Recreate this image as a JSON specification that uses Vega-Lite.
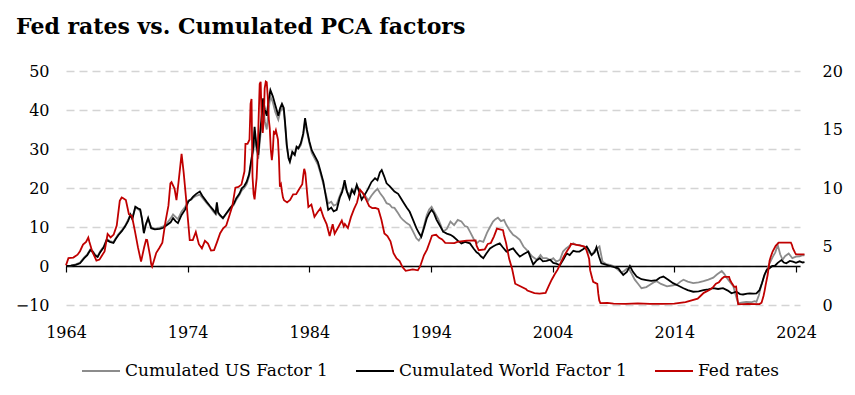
{
"$schema": "https://vega.github.io/schema/vega-lite/v6.json",
"width": 734, "height": 234,
"autosize": "none",
"padding": {"left": 66, "top": 71, "right": 55, "bottom": 90},
"background": "white",
"title": {"text": "Fed rates vs. Cumulated PCA factors", "anchor": "start", "frame": "group", "font": "DejaVu Serif", "fontSize": 22, "fontWeight": "bold", "color": "#000000", "dx": -50, "offset": 24},
"config": {"view": {"stroke": null}, "font": "DejaVu Serif"},
"datasets": {
"us": [
{"d":1964.0,"v":0},{"d":1964.4,"v":0.1},{"d":1964.8,"v":0.4},{"d":1965.15,"v":0.9},{"d":1965.5,"v":2.2},{"d":1965.75,"v":3.0},{"d":1966.0,"v":4.3},{"d":1966.2,"v":3.8},{"d":1966.4,"v":2.9},{"d":1966.6,"v":2.5},{"d":1966.8,"v":3.7},{"d":1967.1,"v":5.0},{"d":1967.35,"v":6.9},{"d":1967.6,"v":6.4},{"d":1967.9,"v":6.1},{"d":1968.1,"v":7.2},{"d":1968.3,"v":8.1},{"d":1968.6,"v":9.2},{"d":1968.85,"v":10.3},{"d":1969.1,"v":11.8},{"d":1969.3,"v":13.3},{"d":1969.45,"v":12.3},{"d":1969.7,"v":15.0},{"d":1969.9,"v":14.6},{"d":1970.1,"v":14.2},{"d":1970.25,"v":12.0},{"d":1970.4,"v":8.8},{"d":1970.55,"v":10.6},{"d":1970.75,"v":12.1},{"d":1971.0,"v":9.9},{"d":1971.3,"v":9.6},{"d":1971.7,"v":9.8},{"d":1972.0,"v":10.2},{"d":1972.3,"v":11.0},{"d":1972.6,"v":12.2},{"d":1972.8,"v":13.2},{"d":1973.0,"v":12.6},{"d":1973.2,"v":12.0},{"d":1973.5,"v":14.0},{"d":1973.8,"v":15.2},{"d":1974.05,"v":16.8},{"d":1974.3,"v":17.0},{"d":1974.45,"v":17.5},{"d":1974.7,"v":18.0},{"d":1975.0,"v":18.3},{"d":1975.2,"v":17.5},{"d":1975.55,"v":16.2},{"d":1975.8,"v":15.3},{"d":1976.1,"v":14.0},{"d":1976.3,"v":13.3},{"d":1976.4,"v":15.8},{"d":1976.5,"v":13.5},{"d":1976.65,"v":12.9},{"d":1976.9,"v":12.2},{"d":1977.2,"v":13.5},{"d":1977.5,"v":14.6},{"d":1977.8,"v":15.7},{"d":1978.0,"v":17.0},{"d":1978.25,"v":18.2},{"d":1978.45,"v":19.4},{"d":1978.65,"v":20.0},{"d":1978.85,"v":21.0},{"d":1979.05,"v":23.0},{"d":1979.25,"v":27.0},{"d":1979.4,"v":29.5},{"d":1979.5,"v":34.5},{"d":1979.65,"v":30.0},{"d":1979.8,"v":27.5},{"d":1979.95,"v":32.5},{"d":1980.1,"v":37.0},{"d":1980.2,"v":41.5},{"d":1980.35,"v":37.0},{"d":1980.5,"v":35.0},{"d":1980.65,"v":40.0},{"d":1980.8,"v":43.5},{"d":1981.0,"v":42.0},{"d":1981.2,"v":39.5},{"d":1981.45,"v":37.5},{"d":1981.6,"v":39.5},{"d":1981.75,"v":40.5},{"d":1981.9,"v":39.8},{"d":1982.0,"v":36.5},{"d":1982.15,"v":30.5},{"d":1982.3,"v":27.5},{"d":1982.4,"v":26.8},{"d":1982.6,"v":29.0},{"d":1982.8,"v":28.5},{"d":1982.95,"v":30.2},{"d":1983.1,"v":30.0},{"d":1983.3,"v":31.0},{"d":1983.5,"v":33.5},{"d":1983.65,"v":37.0},{"d":1983.8,"v":34.5},{"d":1984.0,"v":31.5},{"d":1984.2,"v":29.0},{"d":1984.4,"v":27.8},{"d":1984.7,"v":26.0},{"d":1984.9,"v":24.0},{"d":1985.15,"v":21.0},{"d":1985.35,"v":18.5},{"d":1985.55,"v":16.0},{"d":1985.8,"v":16.5},{"d":1986.0,"v":15.5},{"d":1986.25,"v":15.8},{"d":1986.5,"v":18.0},{"d":1986.7,"v":19.5},{"d":1986.9,"v":20.5},{"d":1987.1,"v":19.0},{"d":1987.3,"v":18.2},{"d":1987.5,"v":19.8},{"d":1987.7,"v":19.0},{"d":1987.9,"v":20.5},{"d":1988.1,"v":19.5},{"d":1988.3,"v":19.0},{"d":1988.6,"v":18.0},{"d":1988.85,"v":16.8},{"d":1989.1,"v":18.0},{"d":1989.35,"v":19.0},{"d":1989.6,"v":19.8},{"d":1989.85,"v":18.5},{"d":1990.1,"v":17.5},{"d":1990.35,"v":16.1},{"d":1990.6,"v":15.8},{"d":1990.8,"v":15.0},{"d":1991.0,"v":14.9},{"d":1991.3,"v":13.5},{"d":1991.5,"v":12.5},{"d":1991.7,"v":11.8},{"d":1992.0,"v":11.0},{"d":1992.25,"v":10.5},{"d":1992.5,"v":9.0},{"d":1992.8,"v":7.1},{"d":1993.0,"v":6.5},{"d":1993.2,"v":7.5},{"d":1993.4,"v":10.0},{"d":1993.65,"v":13.0},{"d":1993.85,"v":14.5},{"d":1994.05,"v":15.2},{"d":1994.25,"v":14.0},{"d":1994.6,"v":12.0},{"d":1994.8,"v":10.5},{"d":1995.0,"v":8.8},{"d":1995.3,"v":9.5},{"d":1995.6,"v":11.4},{"d":1995.9,"v":10.5},{"d":1996.2,"v":11.8},{"d":1996.5,"v":11.4},{"d":1996.8,"v":10.2},{"d":1997.0,"v":10.0},{"d":1997.2,"v":8.8},{"d":1997.5,"v":7.0},{"d":1997.75,"v":5.8},{"d":1998.0,"v":6.5},{"d":1998.3,"v":6.2},{"d":1998.6,"v":8.5},{"d":1998.85,"v":10.0},{"d":1999.1,"v":11.4},{"d":1999.3,"v":12.0},{"d":1999.5,"v":12.4},{"d":1999.75,"v":11.5},{"d":2000.0,"v":11.8},{"d":2000.2,"v":10.5},{"d":2000.5,"v":9.0},{"d":2000.75,"v":8.0},{"d":2001.0,"v":7.5},{"d":2001.3,"v":6.7},{"d":2001.6,"v":5.0},{"d":2002.0,"v":3.7},{"d":2002.3,"v":2.5},{"d":2002.7,"v":1.6},{"d":2003.0,"v":2.8},{"d":2003.2,"v":2.0},{"d":2003.5,"v":2.0},{"d":2003.8,"v":1.5},{"d":2004.05,"v":2.0},{"d":2004.3,"v":1.1},{"d":2004.6,"v":1.6},{"d":2004.85,"v":3.7},{"d":2005.1,"v":4.5},{"d":2005.4,"v":5.2},{"d":2005.7,"v":5.8},{"d":2005.95,"v":5.4},{"d":2006.2,"v":5.4},{"d":2006.5,"v":5.0},{"d":2006.8,"v":4.2},{"d":2007.0,"v":3.5},{"d":2007.2,"v":2.8},{"d":2007.45,"v":4.0},{"d":2007.65,"v":4.5},{"d":2007.85,"v":5.0},{"d":2008.1,"v":1.1},{"d":2008.4,"v":0.5},{"d":2008.7,"v":0.3},{"d":2009.0,"v":0.0},{"d":2009.3,"v":-0.8},{"d":2009.65,"v":-1.7},{"d":2009.9,"v":-1.2},{"d":2010.2,"v":-0.4},{"d":2010.5,"v":-2.0},{"d":2010.75,"v":-3.5},{"d":2011.0,"v":-4.5},{"d":2011.3,"v":-5.7},{"d":2011.7,"v":-5.4},{"d":2012.0,"v":-4.8},{"d":2012.3,"v":-4.2},{"d":2012.55,"v":-3.9},{"d":2012.9,"v":-4.6},{"d":2013.4,"v":-5.2},{"d":2013.8,"v":-5.0},{"d":2014.2,"v":-4.8},{"d":2014.5,"v":-4.0},{"d":2014.75,"v":-3.5},{"d":2015.1,"v":-4.0},{"d":2015.55,"v":-4.4},{"d":2016.0,"v":-4.2},{"d":2016.4,"v":-3.9},{"d":2016.8,"v":-3.5},{"d":2017.2,"v":-3.0},{"d":2017.5,"v":-2.2},{"d":2017.9,"v":-1.3},{"d":2018.1,"v":-2.0},{"d":2018.3,"v":-3.0},{"d":2018.6,"v":-4.2},{"d":2018.85,"v":-5.2},{"d":2019.05,"v":-7.5},{"d":2019.25,"v":-9.6},{"d":2019.5,"v":-9.4},{"d":2019.9,"v":-9.2},{"d":2020.3,"v":-9.3},{"d":2020.6,"v":-9.0},{"d":2020.75,"v":-9.2},{"d":2020.95,"v":-7.5},{"d":2021.15,"v":-4.8},{"d":2021.35,"v":-3.0},{"d":2021.55,"v":-1.3},{"d":2021.8,"v":0.5},{"d":2022.1,"v":2.4},{"d":2022.3,"v":3.5},{"d":2022.5,"v":5.4},{"d":2022.7,"v":3.0},{"d":2022.9,"v":1.6},{"d":2023.1,"v":2.5},{"d":2023.4,"v":3.2},{"d":2023.7,"v":2.0},{"d":2024.0,"v":2.4},{"d":2024.3,"v":2.5},{"d":2024.55,"v":2.8},{"d":2024.7,"v":2.7}
],
"world": [
{"d":1964.0,"v":0},{"d":1964.4,"v":0.1},{"d":1964.8,"v":0.3},{"d":1965.15,"v":0.7},{"d":1965.5,"v":2.0},{"d":1965.75,"v":2.8},{"d":1966.0,"v":4.1},{"d":1966.2,"v":3.6},{"d":1966.4,"v":2.7},{"d":1966.6,"v":2.3},{"d":1966.8,"v":3.5},{"d":1967.1,"v":4.8},{"d":1967.35,"v":6.7},{"d":1967.6,"v":6.2},{"d":1967.9,"v":5.9},{"d":1968.1,"v":7.0},{"d":1968.3,"v":7.9},{"d":1968.6,"v":9.0},{"d":1968.85,"v":10.1},{"d":1969.1,"v":11.5},{"d":1969.3,"v":13.1},{"d":1969.45,"v":12.0},{"d":1969.7,"v":15.2},{"d":1969.9,"v":14.8},{"d":1970.1,"v":14.5},{"d":1970.25,"v":12.0},{"d":1970.4,"v":8.4},{"d":1970.55,"v":10.5},{"d":1970.75,"v":12.3},{"d":1971.0,"v":9.7},{"d":1971.3,"v":9.4},{"d":1971.7,"v":9.5},{"d":1972.0,"v":9.8},{"d":1972.3,"v":10.5},{"d":1972.6,"v":11.2},{"d":1972.8,"v":12.3},{"d":1973.0,"v":11.5},{"d":1973.2,"v":11.0},{"d":1973.5,"v":13.1},{"d":1973.8,"v":14.5},{"d":1974.05,"v":16.5},{"d":1974.3,"v":17.2},{"d":1974.45,"v":17.8},{"d":1974.7,"v":18.5},{"d":1975.0,"v":19.1},{"d":1975.2,"v":18.0},{"d":1975.55,"v":16.5},{"d":1975.8,"v":15.5},{"d":1976.1,"v":14.4},{"d":1976.3,"v":13.5},{"d":1976.4,"v":16.3},{"d":1976.5,"v":13.8},{"d":1976.65,"v":13.1},{"d":1976.9,"v":12.3},{"d":1977.2,"v":13.6},{"d":1977.5,"v":14.9},{"d":1977.8,"v":16.0},{"d":1978.0,"v":17.4},{"d":1978.25,"v":18.5},{"d":1978.45,"v":19.9},{"d":1978.65,"v":20.5},{"d":1978.85,"v":21.6},{"d":1979.05,"v":23.5},{"d":1979.25,"v":27.6},{"d":1979.4,"v":30.5},{"d":1979.5,"v":35.7},{"d":1979.65,"v":31.0},{"d":1979.8,"v":28.5},{"d":1979.95,"v":34.0},{"d":1980.1,"v":39.0},{"d":1980.2,"v":43.0},{"d":1980.35,"v":40.0},{"d":1980.5,"v":38.5},{"d":1980.65,"v":42.5},{"d":1980.8,"v":45.1},{"d":1981.0,"v":43.5},{"d":1981.2,"v":41.3},{"d":1981.45,"v":38.5},{"d":1981.6,"v":40.5},{"d":1981.75,"v":41.6},{"d":1981.9,"v":40.5},{"d":1982.0,"v":37.0},{"d":1982.15,"v":31.0},{"d":1982.3,"v":27.6},{"d":1982.4,"v":26.7},{"d":1982.6,"v":29.3},{"d":1982.8,"v":28.5},{"d":1982.95,"v":30.6},{"d":1983.1,"v":30.2},{"d":1983.3,"v":31.5},{"d":1983.5,"v":34.0},{"d":1983.65,"v":37.9},{"d":1983.8,"v":35.0},{"d":1984.0,"v":32.0},{"d":1984.2,"v":29.7},{"d":1984.4,"v":28.5},{"d":1984.7,"v":26.7},{"d":1984.9,"v":24.5},{"d":1985.15,"v":21.6},{"d":1985.35,"v":18.0},{"d":1985.55,"v":14.4},{"d":1985.8,"v":15.0},{"d":1986.0,"v":14.0},{"d":1986.25,"v":14.4},{"d":1986.5,"v":17.5},{"d":1986.7,"v":19.0},{"d":1986.9,"v":22.0},{"d":1987.1,"v":19.0},{"d":1987.3,"v":17.3},{"d":1987.5,"v":19.5},{"d":1987.7,"v":18.5},{"d":1987.9,"v":20.8},{"d":1988.1,"v":19.0},{"d":1988.3,"v":17.0},{"d":1988.6,"v":18.5},{"d":1988.85,"v":19.9},{"d":1989.1,"v":21.5},{"d":1989.4,"v":22.5},{"d":1989.6,"v":22.0},{"d":1989.8,"v":24.0},{"d":1989.95,"v":24.6},{"d":1990.15,"v":23.0},{"d":1990.35,"v":21.2},{"d":1990.6,"v":20.5},{"d":1990.8,"v":19.8},{"d":1991.0,"v":19.1},{"d":1991.3,"v":18.5},{"d":1991.5,"v":17.5},{"d":1991.7,"v":16.5},{"d":1992.0,"v":15.0},{"d":1992.25,"v":13.9},{"d":1992.5,"v":12.0},{"d":1992.8,"v":9.7},{"d":1993.0,"v":8.5},{"d":1993.2,"v":7.5},{"d":1993.4,"v":9.5},{"d":1993.65,"v":12.2},{"d":1993.85,"v":13.5},{"d":1994.05,"v":14.4},{"d":1994.25,"v":13.5},{"d":1994.45,"v":11.9},{"d":1994.7,"v":10.5},{"d":1995.0,"v":8.8},{"d":1995.3,"v":8.3},{"d":1995.6,"v":8.0},{"d":1995.85,"v":7.5},{"d":1996.2,"v":6.5},{"d":1996.5,"v":5.8},{"d":1996.8,"v":6.2},{"d":1997.2,"v":5.8},{"d":1997.5,"v":4.5},{"d":1997.75,"v":3.5},{"d":1997.9,"v":3.2},{"d":1998.1,"v":2.5},{"d":1998.3,"v":2.0},{"d":1998.55,"v":3.2},{"d":1998.85,"v":4.5},{"d":1999.1,"v":5.0},{"d":1999.4,"v":5.5},{"d":1999.65,"v":5.8},{"d":1999.9,"v":4.8},{"d":2000.2,"v":3.7},{"d":2000.5,"v":4.2},{"d":2000.75,"v":4.5},{"d":2001.0,"v":3.5},{"d":2001.3,"v":2.4},{"d":2001.6,"v":3.0},{"d":2002.0,"v":3.7},{"d":2002.2,"v":2.0},{"d":2002.4,"v":0.4},{"d":2002.7,"v":1.5},{"d":2002.95,"v":2.0},{"d":2003.2,"v":1.2},{"d":2003.5,"v":1.3},{"d":2003.8,"v":1.6},{"d":2004.05,"v":0.8},{"d":2004.3,"v":0.6},{"d":2004.6,"v":0.2},{"d":2004.9,"v":1.8},{"d":2005.15,"v":3.2},{"d":2005.4,"v":2.8},{"d":2005.7,"v":3.9},{"d":2005.95,"v":3.7},{"d":2006.2,"v":3.7},{"d":2006.5,"v":4.3},{"d":2006.8,"v":5.0},{"d":2007.0,"v":4.0},{"d":2007.2,"v":2.8},{"d":2007.45,"v":3.5},{"d":2007.6,"v":4.8},{"d":2007.8,"v":2.5},{"d":2008.0,"v":0.7},{"d":2008.3,"v":0.4},{"d":2008.7,"v":0.0},{"d":2009.0,"v":-0.2},{"d":2009.4,"v":-0.6},{"d":2009.6,"v":-1.5},{"d":2009.8,"v":-2.3},{"d":2010.1,"v":-1.5},{"d":2010.35,"v":0.0},{"d":2010.6,"v":-1.5},{"d":2010.9,"v":-2.7},{"d":2011.3,"v":-3.4},{"d":2011.7,"v":-3.6},{"d":2012.1,"v":-3.8},{"d":2012.55,"v":-3.6},{"d":2012.8,"v":-3.0},{"d":2013.1,"v":-2.7},{"d":2013.5,"v":-3.5},{"d":2013.9,"v":-4.4},{"d":2014.3,"v":-5.0},{"d":2014.75,"v":-5.7},{"d":2015.1,"v":-6.2},{"d":2015.55,"v":-6.6},{"d":2016.0,"v":-6.5},{"d":2016.4,"v":-6.2},{"d":2016.8,"v":-6.0},{"d":2017.2,"v":-5.7},{"d":2017.6,"v":-5.9},{"d":2018.0,"v":-5.7},{"d":2018.4,"v":-6.3},{"d":2018.7,"v":-7.0},{"d":2019.1,"v":-6.6},{"d":2019.4,"v":-7.2},{"d":2019.65,"v":-7.3},{"d":2020.0,"v":-7.1},{"d":2020.2,"v":-7.0},{"d":2020.5,"v":-7.1},{"d":2020.75,"v":-7.0},{"d":2021.0,"v":-6.2},{"d":2021.2,"v":-4.5},{"d":2021.4,"v":-2.3},{"d":2021.6,"v":-1.0},{"d":2021.85,"v":-0.5},{"d":2022.05,"v":0.0},{"d":2022.25,"v":0.0},{"d":2022.5,"v":0.8},{"d":2022.8,"v":1.5},{"d":2023.0,"v":0.9},{"d":2023.2,"v":0.7},{"d":2023.5,"v":1.3},{"d":2023.75,"v":1.1},{"d":2024.0,"v":0.8},{"d":2024.3,"v":1.2},{"d":2024.55,"v":0.9},{"d":2024.7,"v":1.0}
],
"fed": [
{"d":1964.0,"v":3.4},{"d":1964.2,"v":4.0},{"d":1964.6,"v":4.05},{"d":1964.95,"v":4.3},{"d":1965.15,"v":4.6},{"d":1965.4,"v":5.17},{"d":1965.65,"v":5.4},{"d":1965.83,"v":5.76},{"d":1965.92,"v":5.4},{"d":1966.17,"v":4.53},{"d":1966.42,"v":3.98},{"d":1966.5,"v":3.79},{"d":1966.75,"v":3.88},{"d":1966.92,"v":4.17},{"d":1967.17,"v":4.58},{"d":1967.42,"v":6.07},{"d":1967.67,"v":5.78},{"d":1967.92,"v":6.02},{"d":1968.17,"v":6.79},{"d":1968.42,"v":8.9},{"d":1968.58,"v":9.19},{"d":1968.67,"v":9.15},{"d":1968.92,"v":8.97},{"d":1969.17,"v":7.76},{"d":1969.42,"v":7.6},{"d":1969.67,"v":6.29},{"d":1969.92,"v":4.9},{"d":1970.17,"v":3.71},{"d":1970.42,"v":4.91},{"d":1970.58,"v":5.57},{"d":1970.67,"v":5.55},{"d":1970.92,"v":4.14},{"d":1971.0,"v":3.5},{"d":1971.08,"v":3.29},{"d":1971.42,"v":4.46},{"d":1971.67,"v":4.87},{"d":1971.92,"v":5.33},{"d":1972.17,"v":7.09},{"d":1972.42,"v":8.49},{"d":1972.58,"v":10.4},{"d":1972.67,"v":10.5},{"d":1972.92,"v":9.95},{"d":1973.08,"v":8.97},{"d":1973.25,"v":10.51},{"d":1973.5,"v":12.92},{"d":1973.67,"v":11.34},{"d":1973.92,"v":8.53},{"d":1974.17,"v":5.54},{"d":1974.42,"v":5.55},{"d":1974.67,"v":6.24},{"d":1974.92,"v":5.2},{"d":1975.17,"v":4.84},{"d":1975.42,"v":5.48},{"d":1975.67,"v":5.25},{"d":1975.92,"v":4.65},{"d":1976.17,"v":4.69},{"d":1976.42,"v":5.39},{"d":1976.67,"v":6.14},{"d":1976.92,"v":6.56},{"d":1977.17,"v":6.79},{"d":1977.42,"v":7.6},{"d":1977.67,"v":8.45},{"d":1977.92,"v":10.03},{"d":1978.17,"v":10.09},{"d":1978.42,"v":10.29},{"d":1978.67,"v":11.43},{"d":1978.75,"v":13.77},{"d":1978.92,"v":13.78},{"d":1979.08,"v":14.13},{"d":1979.17,"v":17.19},{"d":1979.25,"v":17.61},{"d":1979.33,"v":10.98},{"d":1979.42,"v":9.47},{"d":1979.5,"v":9.03},{"d":1979.67,"v":10.87},{"d":1979.75,"v":12.81},{"d":1979.83,"v":15.85},{"d":1979.92,"v":18.9},{"d":1980.0,"v":19.08},{"d":1980.08,"v":15.93},{"d":1980.17,"v":14.7},{"d":1980.25,"v":15.72},{"d":1980.33,"v":18.52},{"d":1980.42,"v":19.1},{"d":1980.5,"v":19.04},{"d":1980.58,"v":17.82},{"d":1980.67,"v":15.87},{"d":1980.75,"v":15.08},{"d":1980.83,"v":13.31},{"d":1980.92,"v":12.37},{"d":1981.0,"v":13.22},{"d":1981.08,"v":14.78},{"d":1981.17,"v":14.68},{"d":1981.25,"v":14.94},{"d":1981.42,"v":14.15},{"d":1981.5,"v":12.59},{"d":1981.58,"v":10.12},{"d":1981.67,"v":10.31},{"d":1981.75,"v":9.71},{"d":1981.83,"v":9.2},{"d":1981.92,"v":8.95},{"d":1982.17,"v":8.77},{"d":1982.42,"v":8.98},{"d":1982.67,"v":9.45},{"d":1982.92,"v":9.47},{"d":1983.17,"v":9.91},{"d":1983.42,"v":10.32},{"d":1983.5,"v":11.06},{"d":1983.58,"v":11.64},{"d":1983.67,"v":11.3},{"d":1983.83,"v":9.43},{"d":1983.92,"v":8.38},{"d":1984.17,"v":8.58},{"d":1984.42,"v":7.53},{"d":1984.67,"v":7.92},{"d":1984.92,"v":8.27},{"d":1985.17,"v":7.48},{"d":1985.42,"v":6.92},{"d":1985.67,"v":5.89},{"d":1985.92,"v":6.91},{"d":1986.08,"v":6.1},{"d":1986.42,"v":6.73},{"d":1986.67,"v":7.22},{"d":1986.83,"v":6.72},{"d":1986.92,"v":6.92},{"d":1987.17,"v":6.58},{"d":1987.42,"v":7.51},{"d":1987.67,"v":8.19},{"d":1987.92,"v":8.76},{"d":1988.17,"v":9.85},{"d":1988.42,"v":9.53},{"d":1988.67,"v":9.01},{"d":1988.92,"v":8.45},{"d":1989.17,"v":8.28},{"d":1989.42,"v":8.29},{"d":1989.67,"v":8.2},{"d":1989.92,"v":7.31},{"d":1990.17,"v":6.12},{"d":1990.42,"v":5.9},{"d":1990.67,"v":5.45},{"d":1990.92,"v":4.43},{"d":1991.17,"v":3.98},{"d":1991.42,"v":3.76},{"d":1991.67,"v":3.22},{"d":1991.92,"v":2.92},{"d":1992.5,"v":3.04},{"d":1992.92,"v":2.96},{"d":1993.08,"v":3.25},{"d":1993.17,"v":3.48},{"d":1993.42,"v":4.25},{"d":1993.67,"v":4.73},{"d":1993.92,"v":5.45},{"d":1994.08,"v":5.92},{"d":1994.25,"v":5.98},{"d":1994.42,"v":6.0},{"d":1994.67,"v":5.74},{"d":1994.92,"v":5.6},{"d":1995.17,"v":5.31},{"d":1995.92,"v":5.29},{"d":1996.17,"v":5.39},{"d":1996.92,"v":5.5},{"d":1997.67,"v":5.51},{"d":1997.75,"v":5.07},{"d":1997.92,"v":4.68},{"d":1998.42,"v":4.76},{"d":1998.67,"v":5.22},{"d":1998.92,"v":5.3},{"d":1999.17,"v":5.85},{"d":1999.42,"v":6.53},{"d":1999.92,"v":6.4},{"d":2000.0,"v":5.98},{"d":2000.17,"v":5.31},{"d":2000.42,"v":3.97},{"d":2000.67,"v":3.07},{"d":2000.92,"v":1.82},{"d":2001.83,"v":1.34},{"d":2001.92,"v":1.24},{"d":2002.5,"v":1.01},{"d":2002.92,"v":0.98},{"d":2003.42,"v":1.03},{"d":2003.67,"v":1.61},{"d":2003.92,"v":2.16},{"d":2004.17,"v":2.63},{"d":2004.42,"v":3.04},{"d":2004.67,"v":3.62},{"d":2004.92,"v":4.16},{"d":2005.17,"v":4.59},{"d":2005.42,"v":4.99},{"d":2005.5,"v":5.24},{"d":2006.58,"v":5.02},{"d":2006.67,"v":4.94},{"d":2006.75,"v":4.76},{"d":2006.92,"v":4.24},{"d":2007.0,"v":3.94},{"d":2007.08,"v":2.98},{"d":2007.17,"v":2.61},{"d":2007.25,"v":2.28},{"d":2007.33,"v":1.98},{"d":2007.67,"v":1.81},{"d":2007.75,"v":0.97},{"d":2007.83,"v":0.39},{"d":2007.92,"v":0.16},{"d":2008.5,"v":0.18},{"d":2009.0,"v":0.11},{"d":2010.0,"v":0.1},{"d":2011.0,"v":0.14},{"d":2012.0,"v":0.09},{"d":2013.0,"v":0.09},{"d":2014.0,"v":0.12},{"d":2014.92,"v":0.24},{"d":2015.92,"v":0.54},{"d":2016.17,"v":0.79},{"d":2016.42,"v":1.04},{"d":2016.92,"v":1.3},{"d":2017.17,"v":1.51},{"d":2017.42,"v":1.82},{"d":2017.67,"v":1.95},{"d":2017.92,"v":2.27},{"d":2018.08,"v":2.4},{"d":2018.5,"v":2.4},{"d":2018.58,"v":2.13},{"d":2018.75,"v":1.83},{"d":2018.92,"v":1.55},{"d":2019.08,"v":1.58},{"d":2019.17,"v":0.65},{"d":2019.25,"v":0.05},{"d":2020.0,"v":0.09},{"d":2021.0,"v":0.08},{"d":2021.17,"v":0.2},{"d":2021.33,"v":0.77},{"d":2021.42,"v":1.21},{"d":2021.5,"v":1.68},{"d":2021.67,"v":2.56},{"d":2021.83,"v":3.78},{"d":2021.92,"v":4.1},{"d":2022.08,"v":4.57},{"d":2022.33,"v":5.06},{"d":2022.58,"v":5.33},{"d":2023.58,"v":5.33},{"d":2023.67,"v":5.13},{"d":2023.75,"v":4.83},{"d":2023.92,"v":4.48},{"d":2024.0,"v":4.33},{"d":2024.7,"v":4.33}
]
},
"resolve": {"scale": {"y": "independent"}},
"layer": [
{
"data": {"name": "us"},
"mark": {"type": "line", "strokeWidth": 1.8, "interpolate": "linear"},
"encoding": {
"x": {"field": "d", "type": "quantitative", "scale": {"domain": [1964, 2024.33], "nice": false, "zero": false},
"axis": {"values": [1964, 1974, 1984, 1994, 2004, 2014, 2024], "format": "d", "title": null, "grid": false, "offset": -39, "domainColor": "#000000", "domainWidth": 1.5, "tickColor": "#000000", "tickSize": 6, "tickWidth": 1.2, "labelPadding": 52, "labelFontSize": 16, "labelColor": "#000000", "labelFont": "DejaVu Serif", "labelFlush": false}},
"y": {"field": "v", "type": "quantitative", "scale": {"domain": [-10, 50], "nice": false, "zero": false},
"axis": {"values": [-10, 0, 10, 20, 30, 40, 50], "title": null, "grid": true, "gridDash": [8, 5], "gridColor": "#d4d4d4", "gridWidth": 1.5, "domain": false, "ticks": false, "labelPadding": 17, "labelFontSize": 16, "labelColor": "#000000", "labelFont": "DejaVu Serif"}},
"color": {"datum": "Cumulated US Factor 1", "type": "nominal",
"scale": {"domain": ["Cumulated US Factor 1", "Cumulated World Factor 1", "Fed rates"], "range": ["#8c8c8c", "#000000", "#c00000"]},
"legend": {"orient": "none", "legendX": 15, "legendY": 280, "direction": "horizontal", "title": null, "symbolType": "stroke", "symbolSize": 1444, "symbolStrokeWidth": 2, "labelFontSize": 17, "labelLimit": 400, "labelFont": "DejaVu Serif", "labelColor": "#000000", "columnPadding": 24, "labelOffset": 4, "padding": 0}}
}
},
{
"data": {"name": "world"},
"mark": {"type": "line", "strokeWidth": 1.8},
"encoding": {
"x": {"field": "d", "type": "quantitative"},
"y": {"field": "v", "type": "quantitative", "scale": {"domain": [-10, 50], "nice": false, "zero": false}, "axis": null},
"color": {"datum": "Cumulated World Factor 1", "type": "nominal"}
}
},
{
"data": {"name": "fed"},
"mark": {"type": "line", "strokeWidth": 1.8},
"encoding": {
"x": {"field": "d", "type": "quantitative"},
"y": {"field": "v", "type": "quantitative", "scale": {"domain": [0, 20], "nice": false, "zero": false},
"axis": {"orient": "right", "values": [0, 5, 10, 15, 20], "title": null, "grid": false, "domain": false, "ticks": false, "labelPadding": 22, "labelFontSize": 16, "labelColor": "#000000", "labelFont": "DejaVu Serif"}},
"color": {"datum": "Fed rates", "type": "nominal"}
}
}
]
}
